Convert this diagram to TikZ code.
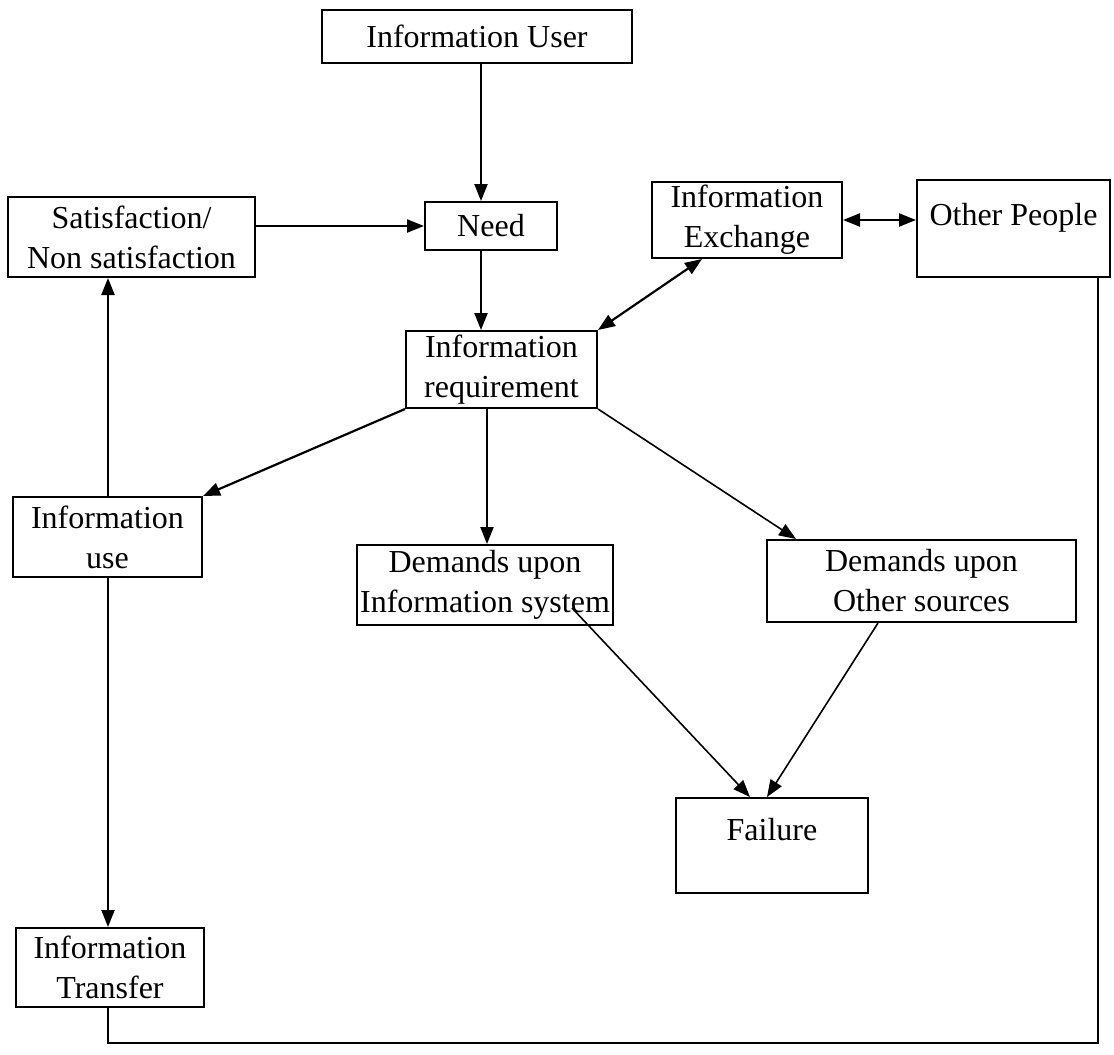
\documentclass[tikz,border=0pt]{standalone}
\usepackage{fontspec}
\setmainfont{Liberation Serif}
\usetikzlibrary{arrows.meta}
\begin{document}
\begin{tikzpicture}[x=1pt,y=-1pt,
  box/.style={draw, line width=2pt, align=center, inner sep=0pt,
    font=\fontsize{32}{40}\selectfont},
  arr/.style={line width=2.2pt, -{Triangle[length=17pt,width=13pt]}},
  thinarr/.style={line width=1.6pt, -{Triangle[length=17pt,width=13pt]}},
  darr/.style={line width=2.2pt, {Triangle[length=17pt,width=13pt]}-{Triangle[length=17pt,width=13pt]}},
  wire/.style={line width=2pt}]
\useasboundingbox (0,0) rectangle (1114,1055);

% boxes
\node[box, minimum width=310, minimum height=53] (user) at (477,36.5) {Information User};
\node[box, minimum width=132, minimum height=48] (need) at (491,226) {Need};
\node[box, minimum width=247, minimum height=80] (sat) at (131.5,237) {Satisfaction/\\Non satisfaction};
\node[box, minimum width=190, minimum height=76] (exch) at (747,220) {Information\\Exchange};
\node[box, minimum width=193, text height=45, text depth=52] (other) at (1013.5,228.5) {Other People};
\node[box, minimum width=191, minimum height=77] (req) at (501.5,369.5) {Information\\requirement};
\node[box, minimum width=189, minimum height=80] (use) at (107.5,537) {Information\\use};
\node[box, minimum width=256, minimum height=80] (dis) at (485,585) {Demands upon\\Information system};
\node[box, minimum width=309, minimum height=82] (dos) at (921.5,581) {Demands upon\\Other sources};
\node[box, minimum width=192, text height=42, text depth=53] (fail) at (772,845.5) {Failure};
\node[box, minimum width=188, minimum height=79] (trans) at (110,967.5) {Information\\Transfer};

% reference columns for the straight connectors
\coordinate (xa) at (481,0);
\coordinate (xb) at (702,0);
\coordinate (xc) at (487,0);
\coordinate (xd) at (796,0);
\coordinate (xl) at (108,0);
\coordinate (xf1) at (750,0);
\coordinate (xf2) at (767,0);
\coordinate (xo) at (878,0);
\coordinate (xr) at (1098,0);
\coordinate (ybot) at (0,1043);
% the line to Failure leaves from inside the word "system"
\coordinate (ps) at (572,608);

% connectors
\draw[arr] (user.south -| xa) -- (need.north -| xa);
\draw[arr] (need.south -| xa) -- (req.north -| xa);
\draw[arr] (sat.east |- need.west) -- (need.west);
\draw[arr] (use.north -| xl) -- (sat.south -| xl);
\draw[darr] (req.north east) -- (exch.south -| xb);
\draw[darr] (exch.east) -- (other.west |- exch.east);
\draw[arr] (req.south west) -- (use.north east);
\draw[arr] (req.south -| xc) -- (dis.north -| xc);
\draw[thinarr] (req.south east) -- (dos.north -| xd);
\draw[thinarr] (ps) -- (fail.north -| xf1);
\draw[thinarr] (dos.south -| xo) -- (fail.north -| xf2);
\draw[arr] (use.south -| xl) -- (trans.north -| xl);
\draw[wire] (trans.south -| xl) -- (xl |- ybot) -| (other.south -| xr);
\end{tikzpicture}
\end{document}
